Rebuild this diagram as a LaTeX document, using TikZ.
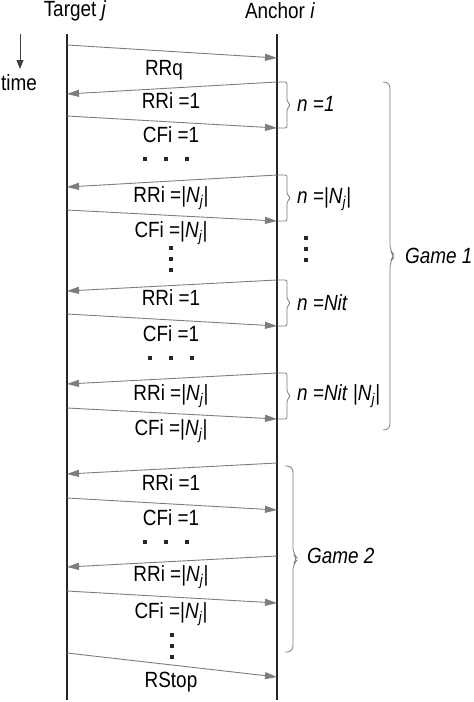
\documentclass[tikz,border=0pt]{standalone}
\usepackage{fontspec}
\setmainfont{Liberation Sans}[FakeStretch=0.86]
\usetikzlibrary{arrows.meta}
\definecolor{msggray}{RGB}{125,125,125}
\newcommand\Nabs{|\textit{N}\textsubscript{\textit{j}}|}
% #1 x start, #2 x of vertical, #3 top y, #4 bottom y, #5 tip offset, #6 corner radius
\newcommand\bracepath[6]{\draw[brc, rounded corners=#6] (#1,#3) -- (#2,#3) -- (#2,{(#3+#4)/2-#5}) -- ({#2+#5},{(#3+#4)/2}) -- (#2,{(#3+#4)/2+#5}) -- (#2,#4) -- (#1,#4);}
\newcommand\hdots[2]{\foreach \xx in {0,21,42} {\fill[dotm] ({#1+\xx-1.7},{#2-1.7}) rectangle ++(3.4,3.4);}}
\newcommand\vdotsm[2]{\foreach \yy in {0,11,22} {\fill[dotm] ({#1-1.7},{#2+\yy-1.7}) rectangle ++(3.4,3.4);}}
\begin{document}
\begin{tikzpicture}[x=1pt,y=-1pt,
  msg/.style={draw=msggray, line width=0.9pt, -{Triangle[length=12pt,width=7pt,fill=msggray]}},
  life/.style={line width=1.6pt, black!85},
  lbl/.style={font=\fontsize{22}{26}\selectfont, inner sep=0pt, text=black},
  nlbl/.style={lbl, anchor=west},
  brc/.style={draw=msggray, line width=0.8pt},
  dotm/.style={fill=black!85},
]
\useasboundingbox (0,0) rectangle (474,702);

% headers
\node[lbl] (target) at (75,11) {Target \textit{j}};
\node[lbl] (anchor) at (280,11) {Anchor \textit{i}};

% time arrow
\coordinate (ttop) at (20,34);
\coordinate (tbot) at (20,69);
\draw[line width=0.9pt, black!75, -{Triangle[length=9pt,width=7pt]}] (ttop) -- (tbot);
\node[lbl] (time) at (19,83) {time};

% lifelines
\coordinate (T0) at (67,34);  \coordinate (T1) at (67,700);
\coordinate (A0) at (277,34); \coordinate (A1) at (277,700);
\draw[life] (T0) -- (T1);
\draw[life] (A0) -- (A1);

% message end points
\coordinate (t1) at (67,45);   \coordinate (a1) at (277,58);
\coordinate (a2) at (277,82);  \coordinate (t2) at (67,94);
\coordinate (t3) at (67,116);  \coordinate (a3) at (277,128);
\coordinate (a4) at (277,175); \coordinate (t4) at (67,187);
\coordinate (t5) at (67,210);  \coordinate (a5) at (277,221);
\coordinate (a6) at (277,280); \coordinate (t6) at (67,291);
\coordinate (t7) at (67,314);  \coordinate (a7) at (277,326);
\coordinate (a8) at (277,373); \coordinate (t8) at (67,384);
\coordinate (t9) at (67,408);  \coordinate (a9) at (277,419);
\coordinate (a10) at (277,463); \coordinate (t10) at (67,474);
\coordinate (t11) at (67,498); \coordinate (a11) at (277,510);
\coordinate (a12) at (277,556); \coordinate (t12) at (67,567);
\coordinate (t13) at (67,591); \coordinate (a13) at (277,603);
\coordinate (t14) at (67,653); \coordinate (a14) at (277,677);

\draw[msg] (t1) -- (a1);
\draw[msg] (a2) -- (t2);
\draw[msg] (t3) -- (a3);
\draw[msg] (a4) -- (t4);
\draw[msg] (t5) -- (a5);
\draw[msg] (a6) -- (t6);
\draw[msg] (t7) -- (a7);
\draw[msg] (a8) -- (t8);
\draw[msg] (t9) -- (a9);
\draw[msg] (a10) -- (t10);
\draw[msg] (t11) -- (a11);
\draw[msg] (a12) -- (t12);
\draw[msg] (t13) -- (a13);
\draw[msg] (t14) -- (a14);

% message labels
\node[lbl] (l1) at (164,70) {RRq};
\node[lbl] (l2) at (171,101) {RRi =1};
\node[lbl] (l3) at (171,135) {CFi =1};
\node[lbl] (l4) at (171,198) {RRi =\Nabs};
\node[lbl] (l5) at (171,233) {CFi =\Nabs};
\node[lbl] (l6) at (171,298) {RRi =1};
\node[lbl] (l7) at (171,334) {CFi =1};
\node[lbl] (l8) at (171,396) {RRi =\Nabs};
\node[lbl] (l9) at (171,431) {CFi =\Nabs};
\node[lbl] (l10) at (171,483) {RRi =1};
\node[lbl] (l11) at (171,518) {CFi =1};
\node[lbl] (l12) at (171,577) {RRi =\Nabs};
\node[lbl] (l13) at (171,614) {CFi =\Nabs};
\node[lbl] (l14) at (171,682) {RStop};

% dots
\hdots{145}{159}
\vdotsm{171}{248}
\hdots{150}{358}
\hdots{145}{542}
\vdotsm{172}{635}
\vdotsm{306}{238}

% small braces
\bracepath{278}{287}{82}{128}{3.5}{2pt}
\bracepath{278}{287}{175}{221}{3.5}{2pt}
\bracepath{278}{287}{280}{326}{3.5}{2pt}
\bracepath{278}{287}{373}{419}{3.5}{2pt}
\node[nlbl] (n1) at (297,104) {\textit{n =1}};
\node[nlbl] (n2) at (297,199) {\textit{n =}\Nabs};
\node[nlbl] (n3) at (297,303) {\textit{n =Nit}};
\node[nlbl] (n4) at (297,396) {\textit{n =Nit }\Nabs};

% game braces
\bracepath{383}{390}{82}{430}{5}{6pt}
\node[nlbl] (g1) at (405,256) {\textit{Game 1}};
\bracepath{285}{293}{466}{652}{5}{6pt}
\node[nlbl] (g2) at (307,556) {\textit{Game 2}};
\end{tikzpicture}
\end{document}
